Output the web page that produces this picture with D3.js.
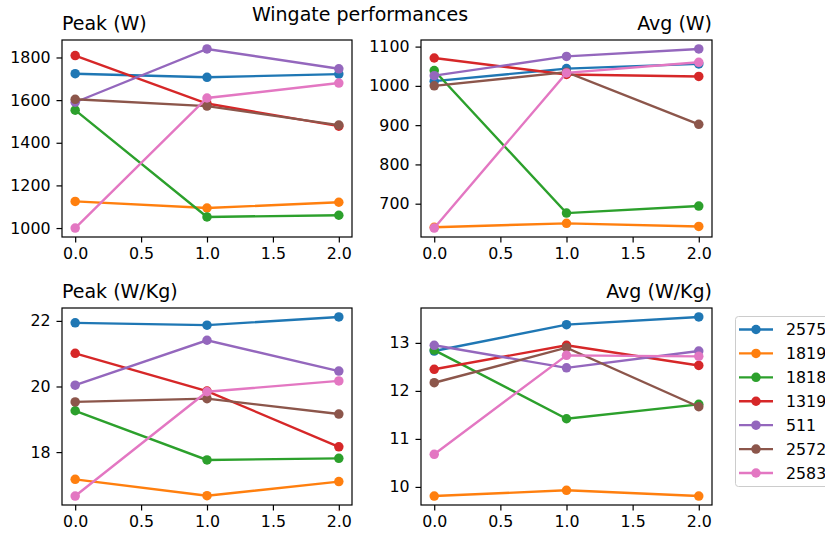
<!DOCTYPE html>
<html>
<head>
<meta charset="utf-8">
<script src="https://cdn.jsdelivr.net/npm/d3@7"></script>
<style>
  body { margin: 0; background: #fff; }
  svg { display: block; font-family: "DejaVu Sans", sans-serif; }
</style>
</head>
<body>
<svg id="chart" width="825" height="536"></svg>
<script>
const subjects = ['2575', '1819', '1818', '1319', '511', '2572', '2583'];
const colors = ['#1f77b4', '#ff7f0e', '#2ca02c', '#d62728', '#9467bd', '#8c564b', '#e377c2'];
const sessions = [0, 1, 2];
const xTicks = [0, 0.5, 1, 1.5, 2];

const peakW = [
  [1724, 1707, 1722],
  [1125, 1094, 1121],
  [1553, 1052, 1060],
  [1809, 1584, 1478],
  [1590, 1840, 1747],
  [1604, 1572, 1483],
  [1000, 1610, 1680]
];
const avgW = [
  [1012, 1044, 1056],
  [640, 650, 642],
  [1039, 676, 694],
  [1071, 1029, 1024],
  [1026, 1075, 1094],
  [1000, 1035, 902],
  [638, 1033, 1060]
];
const peakWkg = [
  [21.94, 21.87, 22.12],
  [17.17, 16.67, 17.1],
  [19.26, 17.76, 17.81],
  [21.01, 19.86, 18.16],
  [20.04, 21.41, 20.47],
  [19.53, 19.63, 19.16],
  [16.66, 19.84, 20.17]
];
const avgWkg = [
  [12.83, 13.38, 13.54],
  [9.81, 9.93, 9.81],
  [12.85, 11.42, 11.72],
  [12.45, 12.95, 12.53],
  [12.95, 12.48, 12.83],
  [12.17, 12.9, 11.67],
  [10.68, 12.74, 12.72]
];

const yTicksPeakW = [1000, 1200, 1400, 1600, 1800];
const yTicksAvgW = [700, 800, 900, 1000, 1100];
const yTicksPeakWkg = [18, 20, 22];
const yTicksAvgWkg = [10, 11, 12, 13];

const tickFont = 15.8;
const titleFont = 19;
const lineW = 2.4;
const dotR = 4.75;

const svg = d3.select('#chart');

const panels = [
  { title: 'Peak (W)', align: 'left', data: peakW, yTicks: yTicksPeakW, left: 62, right: 352, top: 40, bottom: 237 },
  { title: 'Avg (W)', align: 'right', data: avgW, yTicks: yTicksAvgW, left: 421, right: 712, top: 40, bottom: 237 },
  { title: 'Peak (W/Kg)', align: 'left', data: peakWkg, yTicks: yTicksPeakWkg, left: 62, right: 352, top: 308, bottom: 505 },
  { title: 'Avg (W/Kg)', align: 'right', data: avgWkg, yTicks: yTicksAvgWkg, left: 421, right: 712, top: 308, bottom: 505 }
];

panels.forEach((p) => {
  const x = d3.scaleLinear().domain([-0.1, 2.1]).range([p.left, p.right]);
  const [lo, hi] = d3.extent(p.data.flat());
  const pad = (hi - lo) * 0.05;
  const y = d3.scaleLinear().domain([lo - pad, hi + pad]).range([p.bottom, p.top]);

  const g = svg.append('g');

  const xAxis = g.append('g')
    .attr('transform', `translate(0,${p.bottom})`)
    .call(d3.axisBottom(x).tickValues(xTicks).tickFormat(d3.format('.1f')).tickSize(5.5).tickPadding(5).tickSizeOuter(0));
  const yAxis = g.append('g')
    .attr('transform', `translate(${p.left},0)`)
    .call(d3.axisLeft(y).tickValues(p.yTicks).tickFormat(d3.format('d')).tickSize(5.5).tickPadding(6).tickSizeOuter(0));
  [xAxis, yAxis].forEach((a) => {
    a.select('.domain').remove();
    a.selectAll('text').attr('font-size', tickFont).attr('fill', '#000').attr('font-family', 'DejaVu Sans');
    a.selectAll('line').attr('stroke', '#000').attr('stroke-width', 1.2);
  });

  const line = d3.line().x((d, i) => x(sessions[i])).y((d) => y(d));
  p.data.forEach((vals, k) => {
    g.append('path').datum(vals).attr('d', line)
      .attr('fill', 'none').attr('stroke', colors[k]).attr('stroke-width', lineW);
    g.selectAll(null).data(vals).enter().append('circle')
      .attr('cx', (d, i) => x(sessions[i])).attr('cy', (d) => y(d))
      .attr('r', dotR).attr('fill', colors[k]);
  });

  g.append('rect')
    .attr('x', p.left).attr('y', p.top)
    .attr('width', p.right - p.left).attr('height', p.bottom - p.top)
    .attr('fill', 'none').attr('stroke', '#000').attr('stroke-width', 1.2);

  g.append('text')
    .attr('x', p.align === 'left' ? p.left : p.right)
    .attr('y', p.top - 10)
    .attr('text-anchor', p.align === 'left' ? 'start' : 'end')
    .attr('font-size', titleFont).attr('fill', '#000')
    .text(p.title);
});

svg.append('text')
  .attr('x', 360).attr('y', 21)
  .attr('text-anchor', 'middle')
  .attr('font-size', titleFont).attr('fill', '#000')
  .text('Wingate performances');

// legend (partly cut off at the right edge, as in the original)
const legend = svg.append('g');
legend.append('rect')
  .attr('x', 735.5).attr('y', 316.5).attr('width', 120).attr('height', 170)
  .attr('rx', 3).attr('fill', '#fff').attr('fill-opacity', 0.8)
  .attr('stroke', '#cccccc').attr('stroke-width', 1);
const ly = d3.scalePoint().domain(subjects).range([329.5, 473]);
subjects.forEach((s, k) => {
  const cy = ly(s);
  legend.append('line')
    .attr('x1', 739).attr('x2', 773).attr('y1', cy).attr('y2', cy)
    .attr('stroke', colors[k]).attr('stroke-width', lineW);
  legend.append('circle').attr('cx', 756).attr('cy', cy).attr('r', dotR).attr('fill', colors[k]);
  legend.append('text')
    .attr('x', 786).attr('y', cy + 5.5)
    .attr('font-size', tickFont).attr('fill', '#000')
    .text(s);
});
</script>
</body>
</html>
